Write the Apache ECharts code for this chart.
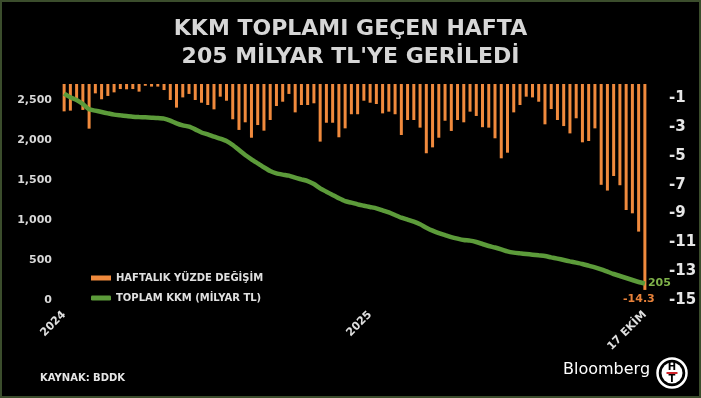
<!DOCTYPE html>
<html>
<head>
<meta charset="utf-8">
<script src="https://cdn.jsdelivr.net/npm/echarts@6/dist/echarts.min.js"></script>
<style>
html,body{margin:0;padding:0;background:#000;}
#c{width:701px;height:398px;}
</style>
</head>
<body>
<div id="c"></div>
<script>
// Weekly % change (right axis), 94 weeks
const weeklyChange = [
  -1.9, -1.85, -1.0, -1.8, -3.1, -0.65, -1.06, -0.83, -0.58, -0.35,
  -0.37, -0.35, -0.53, -0.12, -0.18, -0.18, -0.42, -1.11, -1.64, -0.93,
  -0.69, -1.11, -1.3, -1.46, -1.76, -0.88, -1.16, -2.45, -3.19, -2.66,
  -3.73, -2.85, -3.24, -2.5, -1.53, -1.23, -0.69, -1.97, -1.46, -1.46,
  -1.34, -4.0, -2.69, -2.69, -3.7, -3.08, -2.1, -2.1, -1.16, -1.3,
  -1.39, -2.04, -1.92, -2.1, -3.54, -2.5, -2.5, -3.03, -4.81, -4.4,
  -3.73, -2.55, -3.26, -2.5, -2.66, -1.92, -2.22, -3.0, -3.03, -3.77,
  -5.16, -4.77, -1.97, -1.46, -0.88, -0.93, -1.23, -2.8, -1.74, -2.5,
  -2.92, -3.43, -2.38, -4.05, -3.96, -3.08, -7.0, -7.4, -6.39, -7.03,
  -8.75, -8.98, -10.25, -14.3
];
// Total KKM, billion TL (left axis)
const totalKKM = [
  2580, 2533, 2500, 2450, 2383, 2367, 2350, 2333, 2317, 2308,
  2300, 2292, 2287, 2283, 2279, 2275, 2267, 2242, 2208, 2183,
  2167, 2133, 2094, 2071, 2042, 2017, 1987, 1937, 1875, 1812,
  1758, 1708, 1658, 1612, 1583, 1567, 1554, 1529, 1508, 1487,
  1450, 1396, 1354, 1312, 1271, 1235, 1217, 1196, 1179, 1162,
  1146, 1121, 1096, 1062, 1029, 1004, 979, 946, 904, 867,
  837, 812, 787, 767, 750, 742, 725, 700, 675, 656,
  633, 608, 592, 583, 575, 567, 558, 550, 533, 517,
  500, 483, 467, 450, 429, 408, 383, 354, 325, 300,
  275, 250, 225, 205
];
const categories = weeklyChange.map((_, i) => 'H' + (i + 1));
const xLabelIdx = [0, 49, 93];
const xLabelTxt = ['2024', '2025', '17 EKİM'];
const seriesNames = ['HAFTALIK YÜZDE DEĞİŞİM', 'TOPLAM KKM (MİLYAR TL)'];
const titleText = "KKM TOPLAMI GEÇEN HAFTA\n205 MİLYAR TL'YE GERİLEDİ";

const ORANGE = '#f08a3d';
const GREEN = '#5c9b3a';
const FONT = 'DejaVu Sans';

const barData = weeklyChange.map((v, i) => i === weeklyChange.length - 1
  ? { value: v, label: { show: true, position: 'bottom', distance: 4, offset: [-6, 0],
      color: '#e8823a', fontSize: 11, fontWeight: 'bold', fontFamily: FONT,
      formatter: p => String(p.value) } }
  : v);

const chart = echarts.init(document.getElementById('c'), null, { renderer: 'canvas' });
chart.setOption({
  backgroundColor: '#000',
  animation: false,
  title: {
    text: titleText, left: 'center', top: 16, padding: 0,
    textStyle: { color: '#d6d6d6', fontFamily: FONT, fontWeight: 'bold', fontSize: 22, lineHeight: 27.5 }
  },
  grid: { left: 61, right: 53, top: 84, bottom: 98 },
  legend: {
    orient: 'vertical', left: 86, top: 268, itemWidth: 20, itemHeight: 5, itemGap: 10,
    itemStyle: { borderWidth: 0 },
    textStyle: { color: '#e0e0e0', fontFamily: FONT, fontWeight: 'bold', fontSize: 10 },
    data: [{ name: seriesNames[0], icon: 'rect' }, { name: seriesNames[1], icon: 'roundRect' }]
  },
  xAxis: {
    type: 'category', data: categories, boundaryGap: true,
    axisLine: { show: false }, axisTick: { show: false }, splitLine: { show: false },
    axisLabel: {
      rotate: 45, margin: 13, color: '#e0e0e0', fontFamily: FONT, fontWeight: 'bold', fontSize: 11,
      interval: (idx) => xLabelIdx.includes(idx),
      formatter: (val, idx) => { const k = xLabelIdx.indexOf(idx); return k >= 0 ? xLabelTxt[k] : ''; }
    }
  },
  yAxis: [
    {
      type: 'value', position: 'left', min: 0, max: 2700, interval: 500,
      axisLine: { show: false }, axisTick: { show: false }, splitLine: { show: false },
      axisLabel: {
        margin: 9, color: '#d9d9d9', fontFamily: FONT, fontWeight: 'bold', fontSize: 11,
        formatter: v => v > 2600 ? '' : v.toLocaleString('en-US')
      }
    },
    {
      type: 'value', position: 'right', min: -15, max: 0, interval: 2,
      axisLine: { show: false }, axisTick: { show: false }, splitLine: { show: false },
      axisLabel: {
        margin: 21, color: '#e6e6e6', fontFamily: FONT, fontWeight: 'bold', fontSize: 15,
        formatter: v => v === 0 ? '' : String(v)
      }
    }
  ],
  series: [
    {
      name: seriesNames[0], type: 'bar', yAxisIndex: 1, data: barData,
      barWidth: 3, itemStyle: { color: ORANGE }, z: 2
    },
    {
      name: seriesNames[1], type: 'line', yAxisIndex: 0, data: totalKKM,
      symbol: 'none', smooth: 0.2, z: 3,
      lineStyle: { color: GREEN, width: 4.5 }, itemStyle: { color: GREEN },
      endLabel: { show: true, distance: 3, color: '#7fb24a', fontSize: 11, fontWeight: 'bold', fontFamily: FONT,
        formatter: p => String(p.value) }
    }
  ],
  graphic: [
    { type: 'rect', shape: { x: 1, y: 1, width: 699, height: 396 }, style: { fill: 'none', stroke: '#3b4d2c', lineWidth: 2 }, silent: true },
    { type: 'text', left: 40, top: 373, style: { text: 'KAYNAK: BDDK', fill: '#e6e6e6', font: 'bold 10px "DejaVu Sans"' } },
    { type: 'text', left: 563, top: 362, style: { text: 'Bloomberg', fill: '#ffffff', font: '16px "DejaVu Sans"' } },
    { type: 'circle', shape: { cx: 672, cy: 373, r: 14.5 }, style: { fill: '#000', stroke: '#fff', lineWidth: 2.5 } },
    { type: 'circle', shape: { cx: 672, cy: 373, r: 10.5 }, style: { fill: '#fff' } },
    { type: 'text', x: 672, y: 367, style: { text: 'H', fill: '#000', font: 'bold 10px "DejaVu Sans"', align: 'center', verticalAlign: 'middle' } },
    { type: 'text', x: 672, y: 379.5, style: { text: 'T', fill: '#000', font: 'bold 10px "DejaVu Sans"', align: 'center', verticalAlign: 'middle' } },
    { type: 'rect', shape: { x: 666.5, y: 372, width: 11, height: 2 }, style: { fill: '#d0232a' } }
  ]
});
</script>
</body>
</html>
